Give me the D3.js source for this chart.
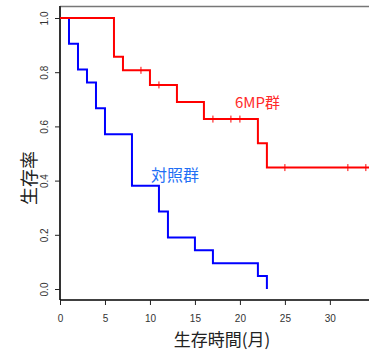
<!DOCTYPE html>
<html>
<head>
<meta charset="utf-8">
<script src="https://cdn.jsdelivr.net/npm/d3@7"></script>
<style>
body { margin: 0; background: #fff; }
svg { display: block; }
</style>
</head>
<body>
<svg id="chart" width="369" height="353"></svg>
<script>
// Kaplan-Meier steps
const mpTimes = [0, 6, 7, 10, 13, 16, 22, 23, 35];
const mpSurv = [1.0, 0.857, 0.807, 0.753, 0.690, 0.627, 0.538, 0.448, 0.448];
const mpCensorT = [9, 11, 17, 19, 20, 25, 32, 34];
const mpCensorS = [0.807, 0.753, 0.627, 0.627, 0.627, 0.448, 0.448, 0.448];

const ctlTimes = [0, 1, 2, 3, 4, 5, 8, 11, 12, 15, 17, 22, 23];
const ctlSurv = [1.0, 0.905, 0.810, 0.762, 0.667, 0.571, 0.381, 0.286, 0.190, 0.143, 0.095, 0.048, 0.0];

const xTicks = [0, 5, 10, 15, 20, 25, 30];
const yTicks = [0.0, 0.2, 0.4, 0.6, 0.8, 1.0];

const svg = d3.select("#chart");
const x = d3.scaleLinear().domain([0, 34.35]).range([60, 369]);
const y = d3.scaleLinear().domain([0, 1]).range([289, 18]);

const jp = "'Noto Sans CJK JP', sans-serif";

// plot frame (top + left)
svg.append("line").attr("x1", 60).attr("x2", 369).attr("y1", 6.5).attr("y2", 6.5)
  .attr("stroke", "#777").attr("stroke-width", 1.5);
svg.append("line").attr("x1", 60).attr("x2", 60).attr("y1", 6).attr("y2", 300)
  .attr("stroke", "#333").attr("stroke-width", 2);

// x axis
const gx = svg.append("g").attr("transform", "translate(0,300)")
  .call(d3.axisBottom(x).tickValues(xTicks).tickSize(5).tickPadding(10).tickSizeOuter(0));
gx.select(".domain").attr("stroke", "#000").attr("stroke-width", 1.5)
  .attr("d", `M${x(0)},0H369`);
gx.selectAll(".tick line").attr("stroke", "#222");
gx.selectAll("text").attr("font-family", "'Liberation Sans', Arial, sans-serif")
  .attr("font-size", 10).attr("fill", "#333");

// y axis
const gy = svg.append("g").attr("transform", "translate(60,0)")
  .call(d3.axisLeft(y).tickValues(yTicks).tickFormat(d3.format(".1f")).tickSize(5).tickSizeOuter(0));
gy.select(".domain").remove();
gy.selectAll(".tick line").attr("stroke", "#222");
gy.selectAll("text")
  .attr("font-family", "'Liberation Sans', Arial, sans-serif")
  .attr("font-size", 10).attr("fill", "#333")
  .attr("x", 0).attr("dy", 0)
  .attr("text-anchor", "middle")
  .attr("transform", "translate(-12,0) rotate(-90)");

// step curves
const stepLine = d3.line().curve(d3.curveStepAfter).x(d => x(d[0])).y(d => y(d[1]));
svg.append("clipPath").attr("id", "plotclip")
  .append("rect").attr("x", 60).attr("y", 0).attr("width", 309).attr("height", 300);

const plot = svg.append("g").attr("clip-path", "url(#plotclip)");

plot.append("path").datum(d3.zip(ctlTimes, ctlSurv))
  .attr("d", stepLine).attr("fill", "none").attr("stroke", "#0000ff").attr("stroke-width", 2);

plot.append("path").datum(d3.zip(mpTimes, mpSurv))
  .attr("d", stepLine).attr("fill", "none").attr("stroke", "#ff0000").attr("stroke-width", 2);

plot.selectAll(".cens").data(d3.zip(mpCensorT, mpCensorS)).join("line")
  .attr("x1", d => x(d[0])).attr("x2", d => x(d[0]))
  .attr("y1", d => y(d[1]) - 3.5).attr("y2", d => y(d[1]) + 3.5)
  .attr("stroke", "#ff0000").attr("stroke-width", 1);

// group labels
svg.append("text").attr("x", 235).attr("y", 108)
  .attr("font-family", jp).attr("font-size", 15).attr("fill", "#ff2a2a").text("6MP群");
svg.append("text").attr("x", 151).attr("y", 181)
  .attr("font-family", jp).attr("font-size", 16).attr("fill", "#1f6ff5").text("対照群");

// axis titles
svg.append("text").attr("x", 222).attr("y", 346).attr("text-anchor", "middle")
  .attr("font-family", jp).attr("font-size", 17).attr("fill", "#222").text("生存時間(月)");
svg.append("text").attr("transform", "translate(36,178) rotate(-90)").attr("text-anchor", "middle")
  .attr("font-family", jp).attr("font-size", 18).attr("fill", "#222").text("生存率");
</script>
</body>
</html>
